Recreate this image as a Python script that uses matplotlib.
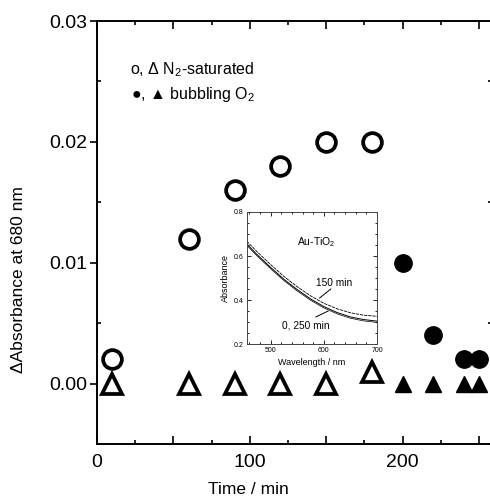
#!/usr/bin/env python3
"""Delta absorbance at 680 nm vs time, with inset spectra (Au-TiO2)."""
import matplotlib
matplotlib.use('Agg')
import matplotlib.pyplot as plt
from matplotlib.ticker import MultipleLocator, FuncFormatter

plt.rcParams['font.family'] = ['Liberation Sans', 'DejaVu Sans']
plt.rcParams['mathtext.fontset'] = 'custom'
plt.rcParams['mathtext.rm'] = 'Liberation Sans'
plt.rcParams['mathtext.it'] = 'Liberation Sans:italic'

# Main data (time / min, delta absorbance)
n2_time = [10, 60, 90, 120, 150, 180]
n2_circle = [0.002, 0.012, 0.016, 0.018, 0.020, 0.020]
n2_triangle = [0.0, 0.0, 0.0, 0.0, 0.0, 0.001]

o2_time = [200, 220, 240, 250]
o2_circle = [0.010, 0.004, 0.002, 0.002]
o2_triangle = [0.0, 0.0, 0.0, 0.0]

# Inset spectra
wavelength = [455, 475, 500, 525, 550, 575, 600, 625, 650, 675, 700]
abs_0_250 = [0.655, 0.605, 0.548, 0.494, 0.447, 0.405, 0.370, 0.343, 0.323, 0.311, 0.304]
abs_150 = [0.668, 0.618, 0.561, 0.507, 0.460, 0.419, 0.385, 0.360, 0.342, 0.331, 0.326]

fig = plt.figure(figsize=(4.9, 4.98), dpi=100)
ax = fig.add_axes([0.198, 0.1084, 0.806, 0.8494])

# Open markers: N2-saturated
ax.plot(n2_time, n2_circle, 'o', ms=13.5, mfc='white', mec='black', mew=2.7, zorder=3)
ax.plot(n2_time, n2_triangle, '^', ms=15, mfc='white', mec='black', mew=2.7, zorder=3)
# Filled markers: bubbling O2
ax.plot(o2_time, o2_circle, 'o', ms=12.5, color='black', zorder=3)
ax.plot(o2_time, o2_triangle, '^', ms=12, color='black', zorder=3)

ax.set_xlim(0, 258.5)
ax.set_ylim(-0.005, 0.03)
ax.xaxis.set_major_locator(MultipleLocator(50))
ax.xaxis.set_minor_locator(MultipleLocator(25))
ax.xaxis.set_major_formatter(FuncFormatter(lambda v, p: f'{v:.0f}' if v % 100 == 0 else ''))
ax.yaxis.set_major_locator(MultipleLocator(0.01))
ax.yaxis.set_minor_locator(MultipleLocator(0.005))
ax.yaxis.set_major_formatter(FuncFormatter(lambda v, p: f'{v:.2f}'))

ax.tick_params(which='both', direction='in', top=True, right=True, labelsize=14, width=1.2)
ax.tick_params(which='major', length=6, pad=7)
ax.tick_params(which='minor', length=3)
ax.tick_params(axis='y', which='major', direction='out', length=5, pad=2)
for s in ax.spines.values():
    s.set_linewidth(1.4)

fig.text(1 - (490 - 248) / 490, 1 - 489 / 498, 'Time / min', ha='center', va='center', fontsize=12.5)
fig.text(0.037, 1 - 280 / 498, 'ΔAbsorbance at 680 nm', rotation=90,
         ha='center', va='center', fontsize=12.5)

# Legend text
fig.text(130 / 490, 1 - 70 / 498, 'o, Δ N$_2$-saturated', fontsize=11.5, va='center')
fig.text(131 / 490, 1 - 94 / 498, '●, ▲ bubbling O$_2$', fontsize=11.5, va='center')

# Inset
ins = fig.add_axes([0.5035, 0.3092, 0.2660, 0.2651])
ins.plot(wavelength, abs_0_250, color='black', lw=0.7)
ins.plot(wavelength, [v - 0.006 for v in abs_0_250], color='black', lw=0.5)
ins.plot(wavelength, abs_150, color='black', lw=0.6, ls=(0, (4, 1)))
ins.set_xlim(455, 700)
ins.set_ylim(0.2, 0.8)
ins.xaxis.set_major_locator(MultipleLocator(100))
ins.xaxis.set_minor_locator(MultipleLocator(20))
ins.yaxis.set_major_locator(MultipleLocator(0.2))
ins.yaxis.set_minor_locator(MultipleLocator(0.05))
ins.tick_params(which='both', direction='in', top=True, right=True, labelsize=5, width=0.6, pad=2)
ins.tick_params(which='major', length=3)
ins.tick_params(which='minor', length=1.5)
for s in ins.spines.values():
    s.set_linewidth(0.7)
    s.set_color('#444444')
ins.set_xlabel('Wavelength / nm', fontsize=6.5, labelpad=3)
ins.set_ylabel('Absorbance', fontsize=6.5, labelpad=3)

ins.text(585, 0.664, 'Au-TiO$_2$', fontsize=7.5, ha='center', va='center')
ins.text(619, 0.477, '150 min', fontsize=7.3, ha='center', va='center')
ins.plot([613, 592], [0.45, 0.409], color='black', lw=0.7)
ins.text(566, 0.282, '0, 250 min', fontsize=7.3, ha='center', va='center')
ins.plot([585, 608], [0.323, 0.35], color='black', lw=0.7)

fig.savefig('out.png', dpi=100)
